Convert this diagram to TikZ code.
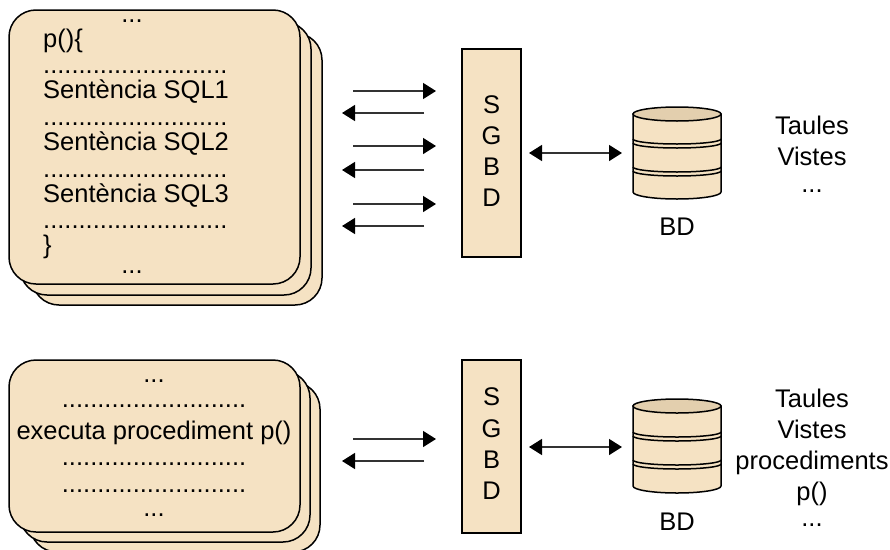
\documentclass[tikz,border=0pt]{standalone}
\usepackage{fontspec}
\setmainfont{Liberation Sans}
\usetikzlibrary{arrows.meta}
\definecolor{sand}{HTML}{F5E2C3}
\definecolor{sanddark}{HTML}{E3CFAE}
\newcommand{\dotsrow}{..........................}
\tikzset{
  x=1pt,y=-1pt,
  card/.style={draw=black,line width=1.5pt,fill=sand,rounded corners=27pt},
  lbl/.style={inner sep=0pt,font=\fontsize{25.5}{30}\selectfont,text=black},
  ll/.style={lbl,anchor=base west},
  cl/.style={lbl,anchor=base},
  sgbd/.style={draw=black,line width=1.5pt,fill=sand,minimum width=59pt,inner sep=0pt,outer sep=0pt,anchor=north west},
  conn/.style={draw=black!80,line width=1.5pt,-{Triangle[length=13pt,width=16pt,color=black,fill=black]}},
  biconn/.style={draw=black!80,line width=1.5pt,{Triangle[length=13pt,width=16pt,color=black,fill=black]}-{Triangle[length=13pt,width=16pt,color=black,fill=black]}},
  disk/.style={draw=black,line width=1.5pt,fill=sand},
  disktop/.style={draw=black,line width=1.5pt,fill=sanddark},
  band/.style={draw=black,line width=1.5pt},
}
\begin{document}
\begin{tikzpicture}
\useasboundingbox (0,0) rectangle (890,549);
\fill[white] (0,0) rectangle (890,549);
% top cards
\draw[card] (32,33) rectangle (322,305);
\draw[card] (20,22) rectangle (311,295);
\draw[card] (9,10) rectangle (300,284);
\node[cl] (t0) at (132,22) {...};
\node[ll] (t1) at (43,47) {p()\{};
\node[ll] (t2) at (43,73) {\dotsrow};
\node[ll] (t3) at (43,98) {Sentència SQL1};
\node[ll] (t4) at (43,125) {\dotsrow};
\node[ll] (t5) at (43,150) {Sentència SQL2};
\node[ll] (t6) at (43,177) {\dotsrow};
\node[ll] (t7) at (43,202) {Sentència SQL3};
\node[ll] (t8) at (43,228) {\dotsrow};
\node[ll] (t9) at (43,253) {\}};
\node[cl] (t10) at (132,273) {...};
% top SGBD
\node[sgbd,minimum height=208pt] (sg1) at (462,49) {};
\node[cl] (s1) at (491.5,113) {S};
\node[cl] (g1) at (491.5,144) {G};
\node[cl] (b1) at (491.5,175) {B};
\node[cl] (d1) at (491.5,206) {D};
% top arrows
\foreach \n/\xa/\xb/\yy in {a/353/436/91,b/424/342/113,c/353/436/146,d/424/342/170,e/353/436/204,f/424/342/226}{
  \coordinate (\n s) at (\xa,\yy);
  \coordinate (\n t) at (\xb,\yy);
  \draw[conn] (\n s) -- (\n t);
}
\coordinate (db1w) at (529,153);
\coordinate (db1e) at (622,153);
\draw[biconn] (db1w) -- (db1e);
% top cylinder
\draw[disk] (633,114) -- (633,192) arc[start angle=180,end angle=360,x radius=44,y radius=-7] -- (721,114) -- cycle;
\draw[disktop] (677,114) ellipse[x radius=44,y radius=7];
\foreach \yy in {139,143,167,171}{
  \draw[band] (633,\yy) arc[start angle=180,end angle=360,x radius=44,y radius=-5];
}
\node[cl] (bd1) at (677,235) {BD};
\node[cl] (ta1) at (812,134) {Taules};
\node[cl] (vi1) at (812,165) {Vistes};
\node[cl] (et1) at (812,192) {...};
% bottom cards
\draw[card] (30,382) rectangle (320,552);
\draw[card] (20,371) rectangle (310,542);
\draw[card] (9,360) rectangle (300,532);
\node[cl] (u0) at (154,382) {...};
\node[cl] (u1) at (154,407) {\dotsrow};
\node[cl] (u2) at (154,439) {executa procediment p()};
\node[cl] (u3) at (154,465) {\dotsrow};
\node[cl] (u4) at (154,492) {\dotsrow};
\node[cl] (u5) at (154,516) {...};
% bottom SGBD
\node[sgbd,minimum height=173pt] (sg2) at (462,360) {};
\node[cl] (s2) at (491.5,405) {S};
\node[cl] (g2) at (491.5,437) {G};
\node[cl] (b2) at (491.5,468) {B};
\node[cl] (d2) at (491.5,499) {D};
\foreach \n/\xa/\xb/\yy in {g/353/436/439,h/424/342/461}{
  \coordinate (\n s) at (\xa,\yy);
  \coordinate (\n t) at (\xb,\yy);
  \draw[conn] (\n s) -- (\n t);
}
\coordinate (db2w) at (529,447);
\coordinate (db2e) at (622,447);
\draw[biconn] (db2w) -- (db2e);
% bottom cylinder
\draw[disk] (633,406) -- (633,486) arc[start angle=180,end angle=360,x radius=44,y radius=-7] -- (721,406) -- cycle;
\draw[disktop] (677,406) ellipse[x radius=44,y radius=7];
\foreach \yy in {432,436,460,464}{
  \draw[band] (633,\yy) arc[start angle=180,end angle=360,x radius=44,y radius=-5];
}
\node[cl] (bd2) at (677,530) {BD};
\node[cl] (ta2) at (812,407) {Taules};
\node[cl] (vi2) at (812,438) {Vistes};
\node[cl] (pr2) at (812,469) {procediments};
\node[cl] (pp2) at (812,500) {p()};
\node[cl] (et2) at (812,526) {...};
\end{tikzpicture}
\end{document}
